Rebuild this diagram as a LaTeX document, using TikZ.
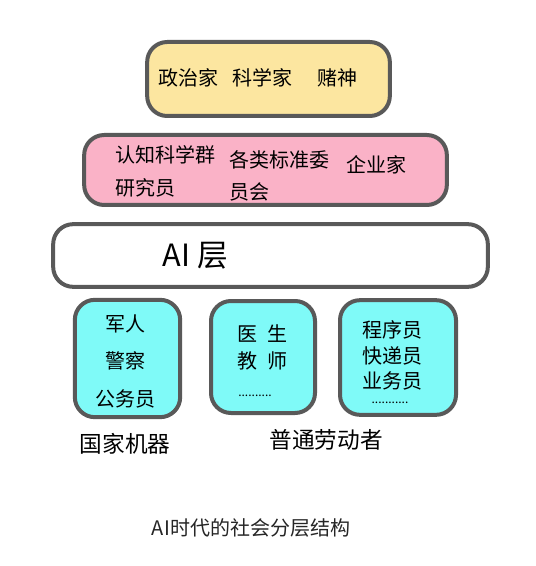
\documentclass[tikz,border=0pt]{standalone}
\usepackage{fontspec}
\setmainfont{Noto Sans CJK SC}
\usepackage{xcolor}
\usetikzlibrary{positioning}
\definecolor{edgegray}{HTML}{595959}
\definecolor{topyellow}{HTML}{FCE6A0}
\definecolor{midpink}{HTML}{FAB2C7}
\definecolor{basecyan}{HTML}{7FFAF8}

\begin{document}
\begin{tikzpicture}[x=0.75pt,y=-0.75pt,
layer/.style={draw=edgegray,line width=3pt,rounded corners=15pt,inner sep=0pt},
word/.style={font=\fontsize{15}{17}\selectfont,inner sep=1pt},
group/.style={font=\fontsize{17}{20}\selectfont}]
\useasboundingbox(0,0)rectangle(535,566);
% layers
\node[layer,fill=topyellow,minimum width=182pt,minimum height=55.5pt](top)at(268.5,79){};
\node[layer,fill=midpink,minimum width=272pt,minimum height=52.5pt](mid)at(265.5,170){};
\node[layer,fill=white,minimum width=326pt,minimum height=47pt](ai)at(270.5,255.5){};
\node[layer,fill=basecyan,minimum width=79pt,minimum height=88pt](state)at(127.5,358.5){};
\node[layer,fill=basecyan,minimum width=78pt,minimum height=84pt](work1)at(263,357){};
\node[layer,fill=basecyan,minimum width=87pt,minimum height=86pt](work2)at(398,357.5){};
% top layer
\node[word](pol)at(188,78){政治家};
\node[word](sci)at(262,78){科学家};
\node[word](gam)at(337,78){赌神};
% middle layer
\node[word,anchor=west](cog)at(114,155){认知科学群};
\node[word,anchor=west](cog2)at(114,188){研究员};
\node[word,anchor=west](std)at(228,160){各类标准委};
\node[word,anchor=west](std2)at(228,192){员会};
\node[word](ent)at(376,165){企业家};
% AI layer
\node[font=\fontsize{23}{26}\selectfont,anchor=west](ailabel)at(158,256){AI 层};
% bottom boxes
\node[word](sol)at(125,324){军人};
\node[word](pol2)at(125,361){警察};
\node[word](civ)at(125,399){公务员};
\node[word](doc)at(262,334){医\hspace{0.5em}生};
\node[word](tea)at(262,361){教\hspace{0.5em}师};
\node[font=\fontsize{9}{10}\selectfont](dots1)at(255,396){..........};
\node[word](prog)at(392,330){程序员};
\node[word](cour)at(392,356){快递员};
\node[word](sale)at(392,381){业务员};
\node[font=\fontsize{9}{10}\selectfont](dots2)at(390,403){...........};
\node[group](stlab)at(125,444){国家机器};
\node[group](wklab)at(326,440){普通劳动者};
% caption
\node[font=\fontsize{15}{17}\selectfont,text=black!85](cap)at(251,528){AI时代的社会分层结构};
\end{tikzpicture}
\end{document}
